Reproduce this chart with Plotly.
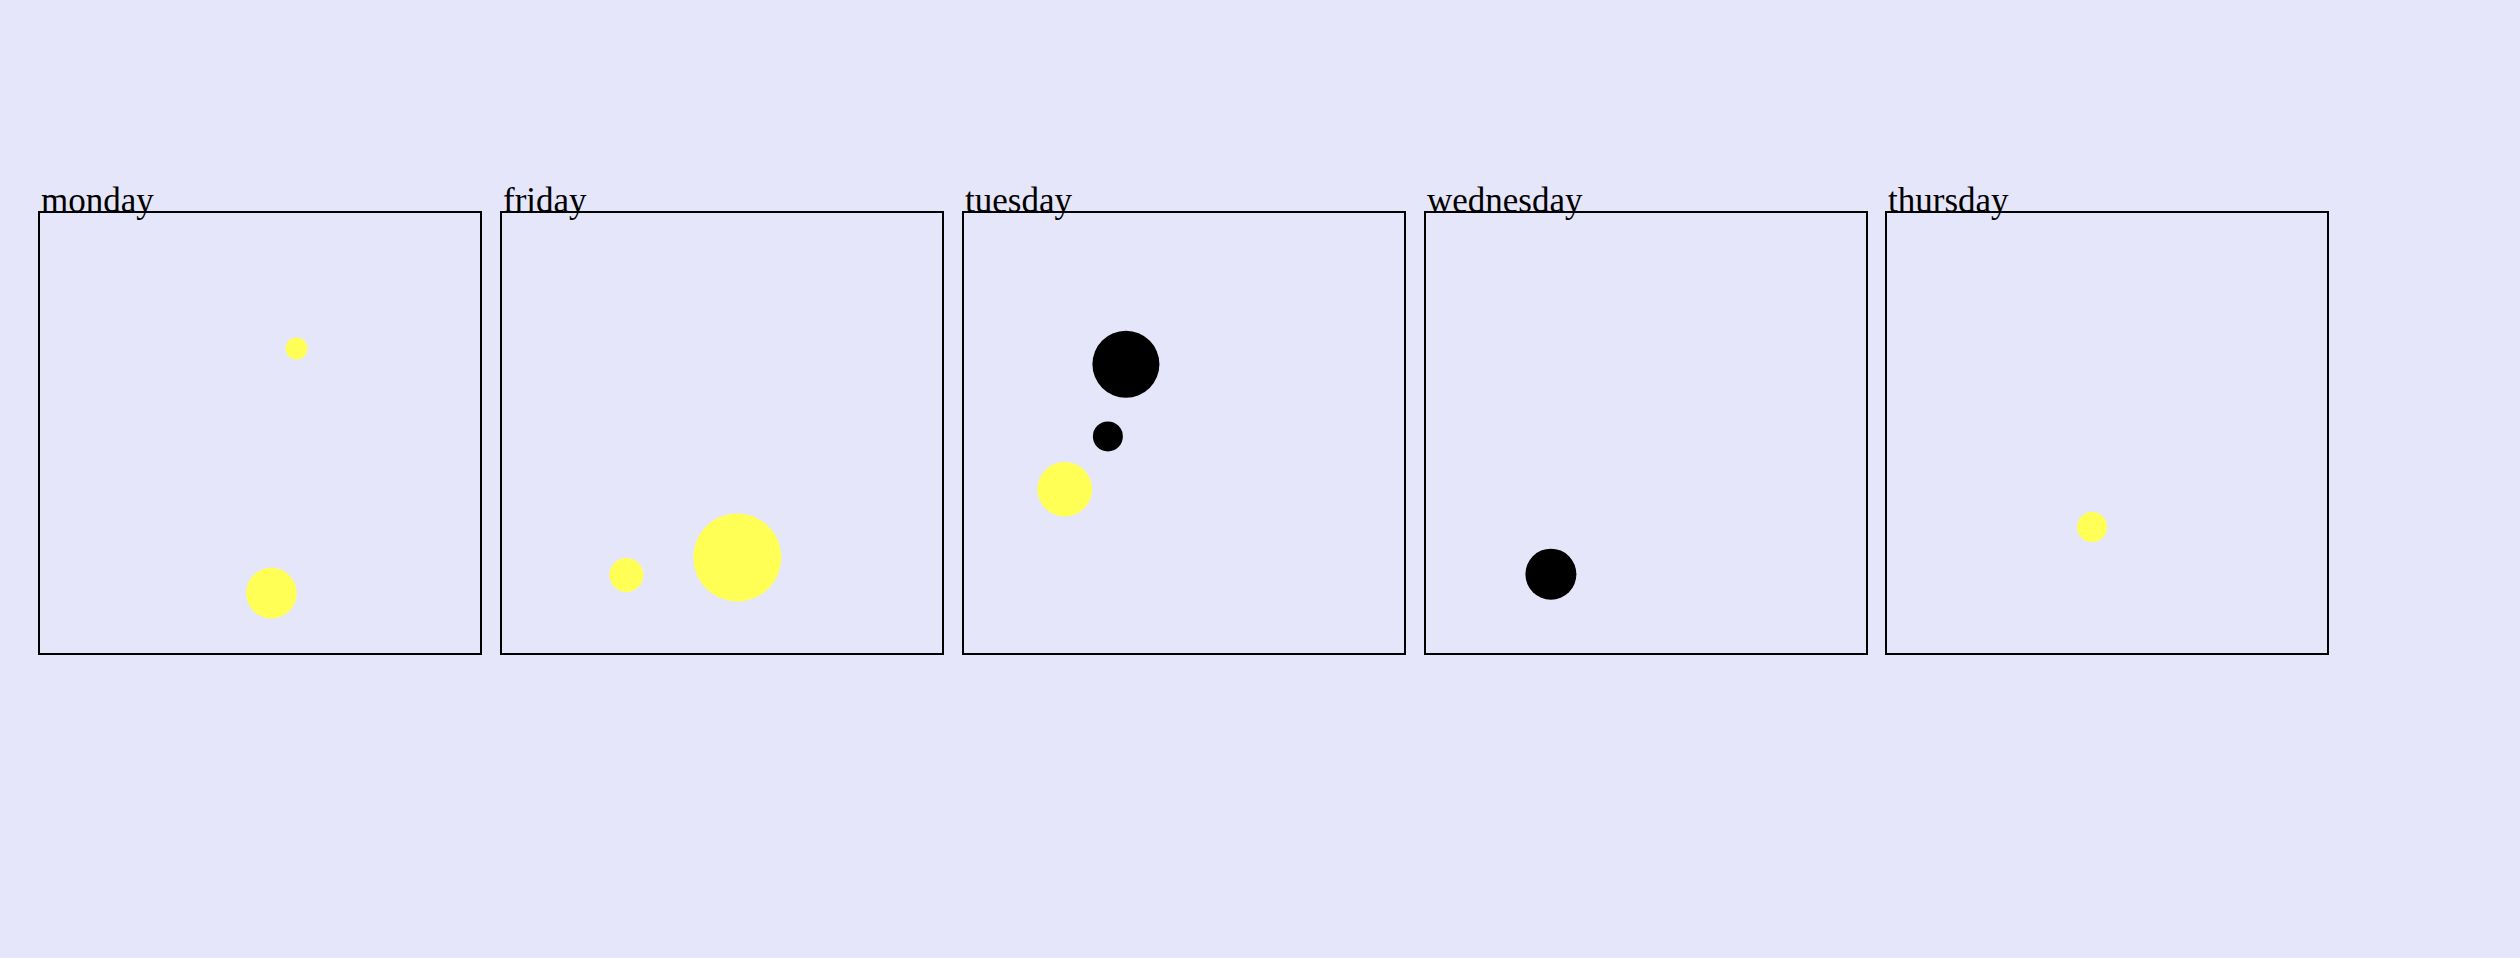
import plotly.graph_objects as go

# ---- data ----
days = ["monday", "friday", "tuesday", "wednesday", "thursday"]

# points per day (x, y on a 0-100 scale, size = marker diameter, group)
day_of_point = ["monday", "monday", "friday", "friday",
                "tuesday", "tuesday", "tuesday", "wednesday", "thursday"]
x_vals = [58.3, 52.6, 28.4, 53.6, 36.8, 32.7, 22.9, 28.5, 46.6]
y_vals = [69.1, 13.5, 17.6, 21.6, 65.5, 49.1, 37.1, 17.8, 28.5]
sizes = [21.7, 50.7, 34, 88, 67, 30, 54.7, 51, 30]
groups = ["yes", "yes", "yes", "yes", "no", "no", "yes", "no", "yes"]

group_colors = {"yes": "#FFFF55", "no": "#000000"}

# ---- layout geometry (pixels) ----
W, H = 2520, 958
panel_left = [40, 501.5, 964, 1425.5, 1887]
panel_w = 440
panel_top, panel_bottom = 212.5, 652.5
bg = "#E6E6FA"

fig = go.Figure()

for i, day in enumerate(days):
    idx = [k for k, d in enumerate(day_of_point) if d == day]
    ax = "" if i == 0 else str(i + 1)
    fig.add_trace(go.Scatter(
        x=[x_vals[k] for k in idx],
        y=[y_vals[k] for k in idx],
        mode="markers",
        marker=dict(
            size=[sizes[k] for k in idx],
            sizemode="diameter",
            color=[group_colors[groups[k]] for k in idx],
            opacity=1,
            line=dict(width=0),
        ),
        xaxis="x" + ax,
        yaxis="y" + ax,
        showlegend=False,
        hoverinfo="skip",
    ))
    axis_common = dict(
        range=[0, 100],
        showgrid=False,
        zeroline=False,
        showticklabels=False,
        ticks="",
        showline=True,
        mirror=True,
        linecolor="black",
        linewidth=2,
        fixedrange=True,
    )
    L = panel_left[i]
    fig.layout["xaxis" + ax] = dict(
        domain=[L / W, (L + panel_w) / W],
        anchor="y" + ax,
        **axis_common,
    )
    fig.layout["yaxis" + ax] = dict(
        domain=[(H - panel_bottom) / H, (H - panel_top) / H],
        anchor="x" + ax,
        **axis_common,
    )
    fig.add_annotation(
        text=day,
        xref="paper", yref="paper",
        x=L / W, y=(H - panel_top) / H,
        xanchor="left", yanchor="bottom",
        xshift=-1, yshift=-9.5,
        showarrow=False,
        font=dict(family="Liberation Serif", size=35, color="black"),
    )

fig.update_layout(
    width=W, height=H,
    margin=dict(l=0, r=0, t=0, b=0),
    paper_bgcolor=bg,
    plot_bgcolor=bg,
    showlegend=False,
)

fig.write_html(
    "out.html",
    config={"displayModeBar": False},
    post_script=(
        "document.body.style.margin='0';"
        "document.body.style.padding='0';"
        "document.body.style.overflow='hidden';"
        "document.body.style.background='" + bg + "';"
    ),
)
